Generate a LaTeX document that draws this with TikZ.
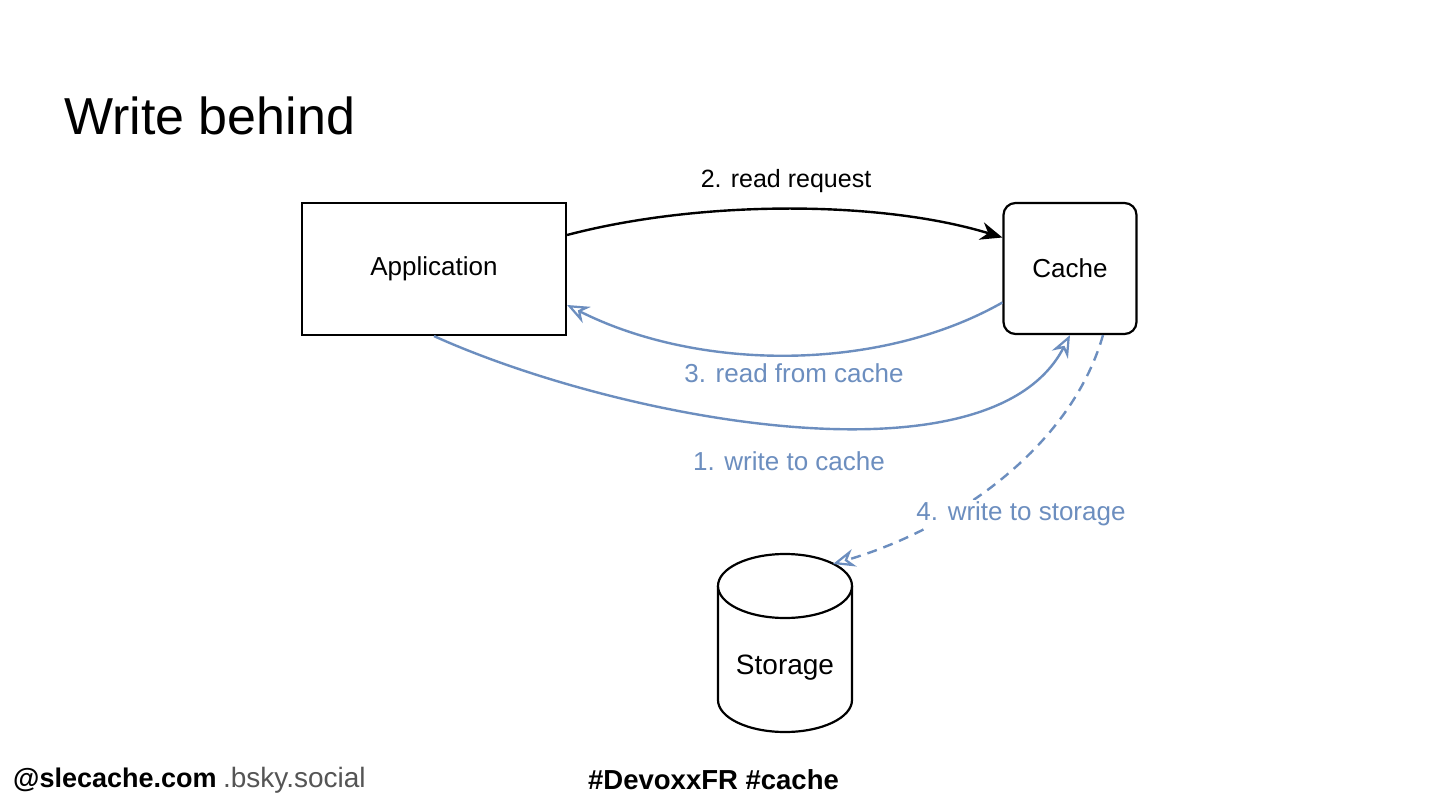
\documentclass[tikz,border=0pt]{standalone}
\usepackage{fontspec}
\setmainfont{Liberation Sans}
\usetikzlibrary{arrows.meta}
\definecolor{sblue}{HTML}{6C8EBF}
\definecolor{sgray}{HTML}{555555}
\tikzset{
  box/.style={draw=black, line width=2.2pt, fill=white, font=\fontsize{26}{30}\selectfont, inner sep=0pt},
  blk/.style={draw=black, line width=2.4pt, -{Stealth[length=22pt,width=18pt]}},
  blu/.style={draw=sblue, line width=2.4pt, -{Stealth[open,length=22pt,width=18pt,line width=2.2pt]}},
  lbl/.style={font=\fontsize{25}{29}\selectfont, inner sep=2pt},
  blbl/.style={font=\fontsize{26}{30}\selectfont, inner sep=2pt, text=sblue},
}
\begin{document}
\begin{tikzpicture}[x=1pt,y=-1pt]
\useasboundingbox[fill=white] (0,0) rectangle (1440,810);
% title
\node[anchor=west, font=\fontsize{52}{58}\selectfont, inner sep=0pt] (title) at (64,116) {Write behind};
% nodes
\node[box, minimum width=264, minimum height=132] (app) at (434,269) {Application};
\node[box, rounded corners=12pt, minimum width=133, minimum height=131] (cache) at (1070,268.5) {Cache};
% storage cylinder
\draw[line width=2.2pt, fill=white] (718,586) -- (718,700) arc[start angle=180, end angle=0, x radius=67, y radius=32] -- (852,586);
\draw[line width=2.2pt, fill=white] (785,586) ellipse[x radius=67, y radius=32];
\node[font=\fontsize{28}{32}\selectfont] (storage) at (785,668) {Storage};
\coordinate (stop) at (833,564);
% connectors
\draw[blk] ([yshift=34pt]app.east) .. controls (700,200) and (880,200) .. ([yshift=31pt]cache.west);
\draw[blu] ([yshift=-34pt]cache.west) .. controls (880,372) and (700,372) .. ([yshift=-36pt]app.east);
\draw[blu] (app.south) .. controls (620,420) and (990,490) .. (cache.south);
\draw[blu, dashed, dash pattern=on 10pt off 7pt] ([xshift=33pt]cache.south) .. controls (1070,450) and (950,530) .. (stop);
% labels
\node[lbl] (l2) at (786,181) {2. read request};
\node[blbl] (l3) at (794,373) {3. read from cache};
\node[blbl] (l1) at (789,461) {1. write to cache};
\node[blbl, fill=white] (l4) at (1021,514) {4. write to storage};
% footer
\node[anchor=west, font=\bfseries\fontsize{27}{31}\selectfont, inner sep=0pt] (f1) at (13,780) {@slecache.com};
\node[anchor=west, font=\fontsize{28}{32}\selectfont, text=sgray, inner sep=0pt] (f2) at ([xshift=6pt]f1.east) {.bsky.social};
\node[anchor=west, font=\bfseries\fontsize{27.5}{32}\selectfont, inner sep=0pt] (f3) at (588,780) {\#DevoxxFR \#cache};
\end{tikzpicture}
\end{document}
